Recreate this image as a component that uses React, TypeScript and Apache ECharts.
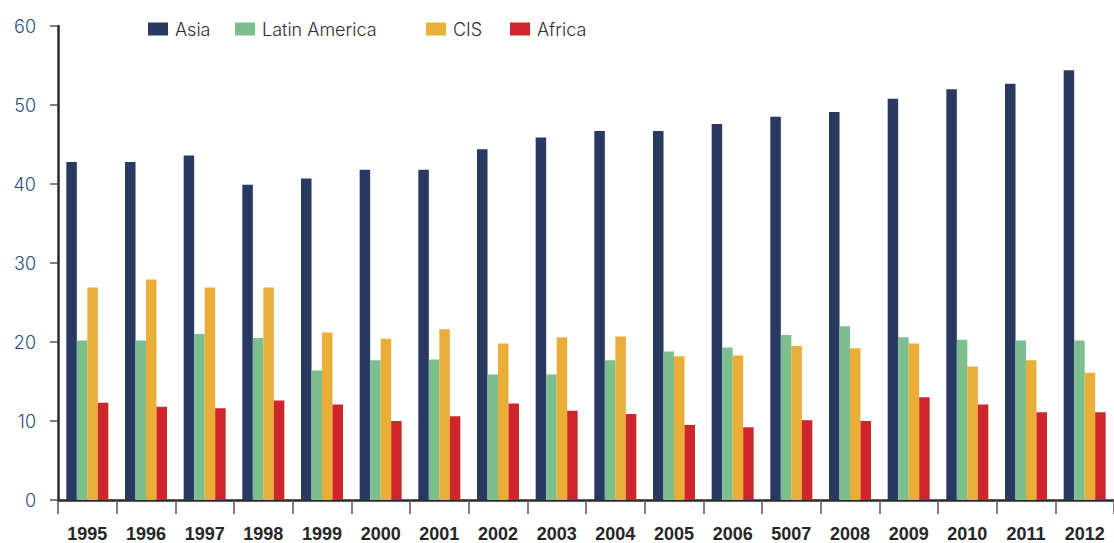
import React, { useEffect, useRef } from "react";
import * as echarts from "echarts";

const years = ["1995","1996","1997","1998","1999","2000","2001","2002","2003","2004","2005","2006","5007","2008","2009","2010","2011","2012"];
const asia = [42.8, 42.8, 43.6, 39.9, 40.7, 41.8, 41.8, 44.4, 45.9, 46.7, 46.7, 47.6, 48.5, 49.1, 50.8, 52.0, 52.7, 54.4];
const latinAmerica = [20.2, 20.2, 21.0, 20.5, 16.4, 17.7, 17.8, 15.9, 15.9, 17.7, 18.8, 19.3, 20.9, 22.0, 20.6, 20.3, 20.2, 20.2];
const cis = [26.9, 27.9, 26.9, 26.9, 21.2, 20.4, 21.6, 19.8, 20.6, 20.7, 18.2, 18.3, 19.5, 19.2, 19.8, 16.9, 17.7, 16.1];
const africa = [12.3, 11.8, 11.6, 12.6, 12.1, 10.0, 10.6, 12.2, 11.3, 10.9, 9.5, 9.2, 10.1, 10.0, 13.0, 12.1, 11.1, 11.1];

const seriesNames = ["Asia", "Latin America", "CIS", "Africa"];
const seriesColors = ["#283a61", "#7dbf8c", "#e9ae37", "#cf262b"];
const seriesData = [asia, latinAmerica, cis, africa];
const legendLefts = [143, 230, 421, 505];

const FONT = "Inter, 'Noto Sans', sans-serif";

export default function App() {
  const ref = useRef<HTMLDivElement>(null);
  useEffect(() => {
    if (!ref.current) return;
    const chart = echarts.init(ref.current, null, { renderer: "svg" });
    chart.setOption({
      animation: false,
      backgroundColor: "#ffffff",
      legend: seriesNames.map((n, i) => ({
        data: [n],
        left: legendLefts[i],
        top: 15,
        itemWidth: 20,
        itemHeight: 13,
        icon: "rect",
        textStyle: { fontFamily: FONT, fontSize: 18, color: "#2e2e2e", fontWeight: 300, padding: [0, 0, 0, 2] },
      })),
      grid: { left: 58, top: 26, bottom: 41, right: -7, containLabel: false },
      xAxis: {
        type: "category",
        data: years,
        axisLine: { lineStyle: { color: "#2a2a2a", width: 2.5 } },
        axisTick: { show: true, length: 14, lineStyle: { color: "#555", width: 1.5 } },
        axisLabel: { fontFamily: "'Liberation Sans Narrow', 'Liberation Sans', sans-serif", fontSize: 18, fontWeight: "bold", color: "#262626", margin: 25 },
      },
      yAxis: {
        type: "value",
        min: 0,
        max: 60,
        interval: 10,
        axisLine: { show: true, lineStyle: { color: "#2a2a2a", width: 2.5 } },
        axisTick: { show: true, length: 8, lineStyle: { color: "#555", width: 1.5 } },
        splitLine: { show: false },
        axisLabel: { fontFamily: FONT, fontSize: 18, fontWeight: 300, color: "#2e4c7d", margin: 22 },
      },
      series: seriesNames.map((n, i) => ({
        name: n,
        type: "bar",
        data: seriesData[i],
        barWidth: 10.5,
        barGap: "0%",
        itemStyle: { color: seriesColors[i] },
      })),
    });
    return () => chart.dispose();
  }, []);
  return (
    <div
      ref={ref}
      style={{ position: "absolute", left: 0, top: 0, width: 1114, height: 543, background: "#fff" }}
    />
  );
}
